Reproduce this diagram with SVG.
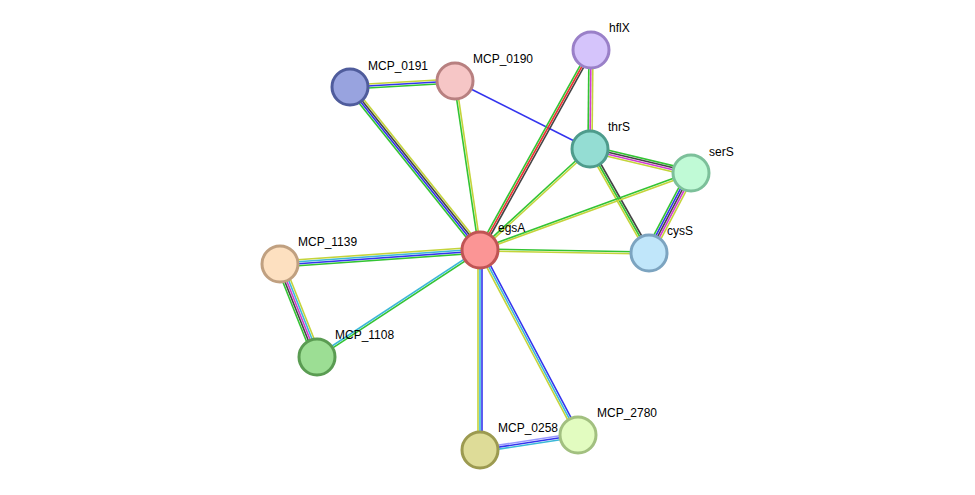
<svg xmlns="http://www.w3.org/2000/svg" width="975" height="495" viewBox="0 0 975 495">
<style>
line{stroke-width:1.6;fill:none}
.g{stroke:#33c433}.y{stroke:#c4d43a}.b{stroke:#3333ee}.k{stroke:#444}.r{stroke:#ee3333}.m{stroke:#d03ad0}.c{stroke:#3cb8d8}.lb{stroke:#9999ff}
circle{stroke-width:3}
text{font-family:"Liberation Sans",Arial,sans-serif;font-size:12px;fill:#000}
</style>
<rect width="975" height="495" fill="#fff"/>
<g id="connectors">
<g transform="translate(350,87) rotate(-3.27)"><line class="y" x1="0" y1="-2" x2="105.2" y2="-2"/><line class="b" x1="0" y1="0" x2="105.2" y2="0"/><line class="g" x1="0" y1="2" x2="105.2" y2="2"/></g>
<g transform="translate(350,87) rotate(51.4)"><line class="y" x1="0" y1="-3" x2="208.5" y2="-3"/><line class="k" x1="0" y1="-1" x2="208.5" y2="-1"/><line class="b" x1="0" y1="1" x2="208.5" y2="1"/><line class="g" x1="0" y1="3" x2="208.5" y2="3"/></g>
<g transform="translate(455,81) rotate(81.6)"><line class="y" x1="0" y1="-1" x2="170.8" y2="-1"/><line class="g" x1="0" y1="1" x2="170.8" y2="1"/></g>
<g transform="translate(455,81) rotate(26.7)"><line class="b" x1="0" y1="0" x2="151.2" y2="0"/></g>
<g transform="translate(591,50) rotate(119)"><line class="k" x1="0" y1="-2" x2="228.7" y2="-2"/><line class="r" x1="0" y1="0" x2="228.7" y2="0"/><line class="g" x1="0" y1="2" x2="228.7" y2="2"/></g>
<g transform="translate(591,50) rotate(90.6)"><line class="y" x1="0" y1="-2" x2="99" y2="-2"/><line class="m" x1="0" y1="0" x2="99" y2="0"/><line class="g" x1="0" y1="2" x2="99" y2="2"/></g>
<g transform="translate(590,149) rotate(137.4)"><line class="y" x1="0" y1="-1" x2="149.3" y2="-1"/><line class="g" x1="0" y1="1" x2="149.3" y2="1"/></g>
<g transform="translate(590,149) rotate(13.4)"><line class="g" x1="0" y1="-3" x2="103.8" y2="-3"/><line class="k" x1="0" y1="-1" x2="103.8" y2="-1"/><line class="m" x1="0" y1="1" x2="103.8" y2="1"/><line class="y" x1="0" y1="3" x2="103.8" y2="3"/></g>
<g transform="translate(590,149) rotate(60.4)"><line class="k" x1="0" y1="-2" x2="119.6" y2="-2"/><line class="g" x1="0" y1="0" x2="119.6" y2="0"/><line class="y" x1="0" y1="2" x2="119.6" y2="2"/></g>
<g transform="translate(691,173) rotate(160)"><line class="y" x1="0" y1="-1" x2="224.6" y2="-1"/><line class="g" x1="0" y1="1" x2="224.6" y2="1"/></g>
<g transform="translate(691,173) rotate(117.7)"><line class="y" x1="0" y1="-4" x2="90.4" y2="-4"/><line class="m" x1="0" y1="-2" x2="90.4" y2="-2"/><line class="k" x1="0" y1="0" x2="90.4" y2="0"/><line class="b" x1="0" y1="2" x2="90.4" y2="2"/><line class="g" x1="0" y1="4" x2="90.4" y2="4"/></g>
<g transform="translate(480,250) rotate(1)"><line class="g" x1="0" y1="-1" x2="169" y2="-1"/><line class="y" x1="0" y1="1" x2="169" y2="1"/></g>
<g transform="translate(480,250) rotate(176)"><line class="g" x1="0" y1="-3" x2="200.5" y2="-3"/><line class="b" x1="0" y1="-1" x2="200.5" y2="-1"/><line class="c" x1="0" y1="1" x2="200.5" y2="1"/><line class="y" x1="0" y1="3" x2="200.5" y2="3"/></g>
<g transform="translate(280,264) rotate(68.3)"><line class="y" x1="0" y1="-4" x2="100.1" y2="-4"/><line class="c" x1="0" y1="-2" x2="100.1" y2="-2"/><line class="m" x1="0" y1="0" x2="100.1" y2="0"/><line class="k" x1="0" y1="2" x2="100.1" y2="2"/><line class="g" x1="0" y1="4" x2="100.1" y2="4"/></g>
<g transform="translate(480,250) rotate(146.7)"><line class="g" x1="0" y1="-1" x2="195" y2="-1"/><line class="c" x1="0" y1="1" x2="195" y2="1"/></g>
<g transform="translate(480,250) rotate(90)"><line class="b" x1="0" y1="-2" x2="200" y2="-2"/><line class="c" x1="0" y1="0" x2="200" y2="0"/><line class="y" x1="0" y1="2" x2="200" y2="2"/></g>
<g transform="translate(480,250) rotate(62.1)"><line class="b" x1="0" y1="-2" x2="209.4" y2="-2"/><line class="c" x1="0" y1="0" x2="209.4" y2="0"/><line class="y" x1="0" y1="2" x2="209.4" y2="2"/></g>
<g transform="translate(480,450) rotate(-8.7)"><line class="lb" x1="0" y1="-2" x2="99.1" y2="-2"/><line class="b" x1="0" y1="0" x2="99.1" y2="0"/><line class="c" x1="0" y1="2" x2="99.1" y2="2"/></g>
</g>
<g id="egsA"><circle cx="480" cy="250" r="18" fill="#fb9595" stroke="#c05454"/><text x="498" y="232">egsA</text></g>
<g id="hflX"><circle cx="591" cy="50" r="18" fill="#d5c4fb" stroke="#9a80c8"/><text x="609" y="32">hflX</text></g>
<g id="MCP_0190"><circle cx="455" cy="81" r="18" fill="#f6c6c6" stroke="#b88080"/><text x="473" y="63">MCP_0190</text></g>
<g id="MCP_0191"><circle cx="350" cy="87" r="18" fill="#98a3df" stroke="#4f5c9c"/><text x="368" y="70">MCP_0191</text></g>
<g id="thrS"><circle cx="590" cy="149" r="18" fill="#94ddd3" stroke="#4e9c8c"/><text x="608" y="131">thrS</text></g>
<g id="serS"><circle cx="691" cy="173" r="18" fill="#c0fad6" stroke="#7cc09a"/><text x="709" y="156">serS</text></g>
<g id="cysS"><circle cx="649" cy="253" r="18" fill="#c0e6fa" stroke="#7ca4c0"/><text x="667" y="235">cysS</text></g>
<g id="MCP_1139"><circle cx="280" cy="264" r="18" fill="#fde0c0" stroke="#c0a080"/><text x="298" y="246">MCP_1139</text></g>
<g id="MCP_1108"><circle cx="317" cy="357" r="18" fill="#9cde94" stroke="#5a9c52"/><text x="335" y="339">MCP_1108</text></g>
<g id="MCP_0258"><circle cx="480" cy="450" r="18" fill="#dedc98" stroke="#9c9a50"/><text x="498" y="432">MCP_0258</text></g>
<g id="MCP_2780"><circle cx="578" cy="435" r="18" fill="#e2fcc0" stroke="#a2c080"/><text x="597" y="417">MCP_2780</text></g>
</svg>
